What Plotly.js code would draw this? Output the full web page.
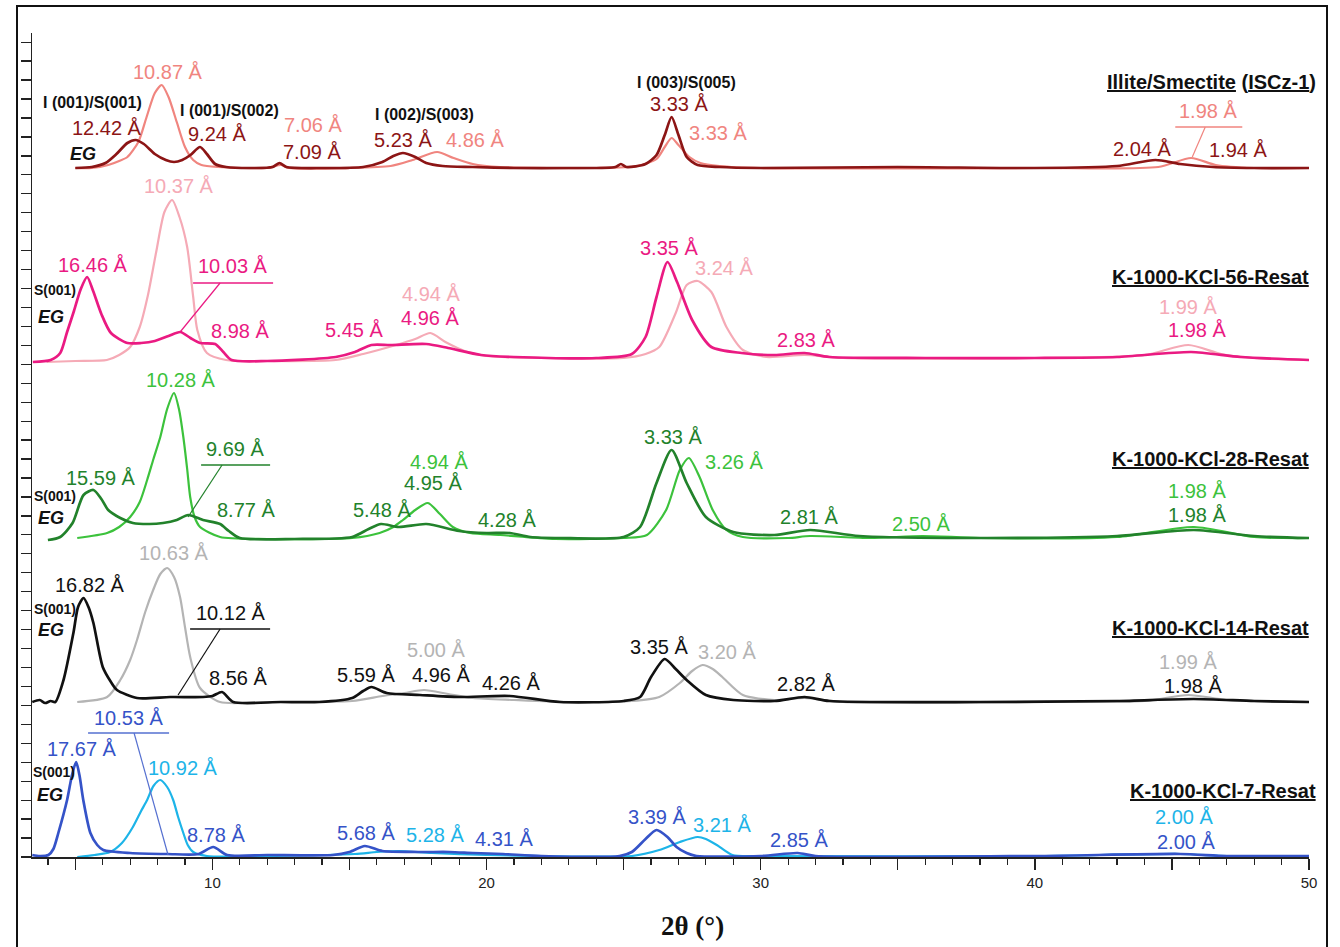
<!DOCTYPE html>
<html>
<head>
<meta charset="utf-8">
<script src="https://cdn.plot.ly/plotly-3.0.1.min.js"></script>
<style>html,body{margin:0;padding:0;background:#fff;}#chart{width:1340px;height:947px;}</style>
</head>
<body>
<div id="chart"></div>
<script>
// ---------------- DATA (2θ in degrees, intensity in stacked a.u.) ----------------
// Illite/Smectite (ISCz-1)
const iscEG_x = [5.0,5.6,6.1,6.5,6.9,7.2,7.5,7.9,8.3,8.6,8.9,9.2,9.55,9.8,10.1,10.5,11.5,12.2,12.45,12.7,14,15.5,16.2,16.6,16.95,17.4,17.8,18.4,19.5,21,23,24.7,24.9,25.1,25.8,26.2,26.5,26.75,27.0,27.3,27.7,28.5,30,35,40,43,44.4,45.3,46.5,48,50];
const iscEG_y = [689,690,694,703,714,717,713,703,697,695,697,702,710,703,693,690,689,690,694,690,689,690,695,701,704,700,694,691,690,689,689,690,693,690,693,702,722,740,722,700,692,690,689,690,689,691,697,693,690,689,689];
const iscAD_x = [5.0,5.6,6.2,6.6,6.9,7.3,7.6,7.9,8.15,8.4,8.7,9.0,9.3,9.6,10.2,12,12.5,12.8,15,16.5,17.3,18.2,18.8,19.5,20.5,24,25.5,26.2,26.5,26.75,27.0,27.4,27.8,28.5,30,40,44.5,45.7,46.6,48,50];
const iscAD_y = [689,689,692,696,700,715,740,764,772,760,735,710,697,692,690,689,692,689,689,691,697,705,699,693,690,689,691,698,710,719,712,700,694,691,689,689,690,699,692,689,689];
// K-1000-KCl-56-Resat
const k56EG_x = [3.45,4.1,4.45,4.7,4.95,5.2,5.43,5.65,5.95,6.3,6.9,7.4,7.9,8.4,8.83,9.2,9.55,10.1,10.4,10.7,12,14.5,15.2,15.8,16.5,17.8,18.6,19.8,21,24,25.3,25.8,26.2,26.6,26.95,27.5,28.2,29.3,30.5,31.6,32.5,36,40,43,45.7,47.5,50];
const k56EG_y = [495,497,504,525,546,568,580,566,543,524,514,514,516,521,525,519,514,513,505,497,496,500,505,512,512,513,509,502,500,499,503,520,560,595,575,537,510,504,502,504,500,499,499,500,505,500,497];
const k56AD_x = [3.95,5,6.15,6.6,7.0,7.35,7.65,7.95,8.25,8.53,8.8,9.08,9.3,9.45,9.8,10.5,12,14.5,15.5,16.7,17.4,17.95,18.5,19.2,20,22,25,25.8,26.3,26.9,27.3,27.7,28.2,28.75,29.35,30.2,31.6,33,40,44,45.6,46.8,48,50];
const k56AD_y = [495,496,497,502,510,530,562,605,645,657,640,610,560,527,504,497,496,497,503,512,518,524,515,506,501,499,499,503,510,544,572,576,565,530,507,500,502,499,499,502,512,503,499,497];
// K-1000-KCl-28-Resat
const k28EG_x = [4.0,4.45,4.9,5.3,5.66,5.95,6.2,6.64,7.1,7.7,8.2,8.7,9.12,9.66,10.28,10.6,11.0,13,15.1,15.7,16.15,16.8,17.8,19.0,20.0,20.85,21.6,22.7,25.0,25.6,26.2,26.75,27.3,28.0,29.0,30.5,31.8,33.6,38,43,45.8,48,50];
const k28EG_y = [317,320,334,362,367,358,347,339,334,333,334,337,342,337,333,326,319,318,320,328,333,330,333,326,324,324,320,319,320,330,374,407,374,340,325,322,327,321,319,321,327,321,319];
const k28AD_x = [5.07,6.16,6.6,7.0,7.35,7.62,7.85,8.1,8.35,8.6,8.78,8.94,9.08,9.19,9.35,9.55,10.28,12,15.1,16.1,16.6,16.95,17.4,17.86,18.3,18.77,19.4,20.5,22.5,25.0,25.85,26.55,27.05,27.38,27.77,28.25,28.75,29.35,31,31.8,34,35.9,38,43,45.8,48,50];
const k28AD_y = [319,324,330,340,355,377,398,420,448,464,448,420,388,360,340,330,320,318,319,324,330,337,347,354,343,330,324,322,318,319,322,347,387,399,380,347,327,320,319,321,319,321,319,320,330,320,319];
// K-1000-KCl-14-Resat
const k14EG_x = [3.43,3.7,3.9,4.1,4.27,4.57,4.93,5.1,5.3,5.48,5.66,6.0,6.3,6.52,7.25,8.46,9.66,10.0,10.35,10.76,12.5,13.9,15.1,15.5,15.8,16.36,17.57,19.0,20.85,22.67,25.0,25.6,26.0,26.5,26.9,27.3,28.0,29.0,30.5,31.6,32.5,38,43,45.8,48,50];
const k14EG_y = [155,157,154,156,155,177,224,250,259,250,234,190,175,167,159,160,160,161,165,155,155,155,159,166,170,164,162,160,161,155,156,160,180,198,188,177,162,157,156,160,156,155,156,158,156,155];
const k14AD_x = [5.07,6.16,6.64,7.0,7.25,7.55,7.84,8.1,8.35,8.6,8.82,9.0,9.19,9.55,10.28,12,15.1,16.2,17.0,17.72,18.6,19.5,21,23,25.3,26.3,27.05,27.5,27.88,28.25,28.6,29.35,30.5,31.6,33,40,44,45.6,47,50];
const k14AD_y = [155,160,177,197,217,245,267,283,289,280,260,230,200,169,155,155,156,161,164,167,163,159,157,155,156,160,174,186,192,188,180,162,157,159,155,155,156,162,157,155];
// K-1000-KCl-7-Resat
const k7EG_x = [3.43,3.7,4.02,4.2,4.38,4.7,4.88,5.03,5.15,5.29,5.55,5.8,6.02,7,8.35,9.5,10.03,10.54,12,14.4,15.0,15.56,16.2,17.5,18.65,19.5,20.6,22,24.85,25.3,25.8,26.2,26.6,26.93,27.3,27.66,30,31.35,32,40,45.3,47,50];
const k7EG_y = [2,1,2,8,24,57,82,95,82,57,24,12,7,4,3,3,10,2,2,2,5,11,6,5,5,4,3,1,1,5,18,27,20,10,4,1,1,4,1,1,3,1,1];
const k7AD_x = [5.07,5.7,6.27,6.7,7.1,7.4,7.62,7.85,8.1,8.35,8.57,8.75,8.94,9.1,9.3,9.8,12,15.2,16.0,16.8,18,20,22,25.3,26.3,27.05,27.7,28.0,28.4,28.97,30,40,45.3,47,50];
const k7AD_y = [0,2,5,14,30,46,57,71,77,70,57,40,24,12,5,1,1,3,5,6,4,2,1,1,7,15,20,18,12,2,1,1,3,1,1];

// tick labels of the 2θ axis
const xTickVals = [5,10,15,20,25,30,35,40,45,50];
const xTickText = ['','10','','20','','30','','40','','50'];

// ---------------- STYLE ----------------
const C = {
  DR:'#8C1515', LC:'#F0857F',
  PK:'#EA1A82', LP:'#F5AAB6',
  DG:'#22822B', LG:'#3CC23C',
  K:'#111111',  GR:'#B4B4B4',
  BL:'#3553C8', SK:'#1DB4E8'
};
const seriesDefs = [
  [iscAD_x, iscAD_y, C.LC, 2.2], [iscEG_x, iscEG_y, C.DR, 2.7],
  [k56AD_x, k56AD_y, C.LP, 2.2], [k56EG_x, k56EG_y, C.PK, 2.7],
  [k28AD_x, k28AD_y, C.LG, 2.2], [k28EG_x, k28EG_y, C.DG, 2.7],
  [k14AD_x, k14AD_y, C.GR, 2.2], [k14EG_x, k14EG_y, C.K, 2.7],
  [k7AD_x,  k7AD_y,  C.SK, 2.2], [k7EG_x,  k7EG_y,  C.BL, 2.7]
];
const traces = seriesDefs.map(s => ({
  type:'scatter', mode:'lines', x:s[0], y:s[1],
  line:{color:s[2], width:s[3], shape:'spline', smoothing:0.7},
  hoverinfo:'skip', showlegend:false
}));

// pixel → paper / axis helpers for label placement
const L = 32, W = 1277, YB = 857, H = 824, X10 = 212.3, PXD = 27.41;
const px2p = px => (px - L) / W;
const py2p = py => (YB - py) / H;
const dx = px => 10 + (px - X10) / PXD;
const dy = py => YB - py;

const FONT = 'Liberation Sans, Arial, sans-serif';
const labels = [
 ['10.87 Å',168,72,C.LC,'d'],['I (001)/S(001)',92,103,C.K,'h'],['12.42 Å',107,128,C.DR,'d'],['EG',83,154,C.K,'eg'],
 ['I (001)/S(002)',229,110,C.K,'h'],['9.24 Å',217,134,C.DR,'d'],['7.06 Å',313,125,C.LC,'d'],['7.09 Å',312,152,C.DR,'d'],
 ['I (002)/S(003)',424,114,C.K,'h'],['5.23 Å',403,140,C.DR,'d'],['4.86 Å',475,140,C.LC,'d'],['I (003)/S(005)',686,82,C.K,'h'],
 ['3.33 Å',679,104,C.DR,'d'],['3.33 Å',718,133,C.LC,'d'],['<u>Illite/Smectite</u> (<u>ISCz-1</u>)',1317,82,C.K,'n'],
 ['1.98 Å',1208,111,C.LC,'d'],['2.04 Å',1142,149,C.DR,'d'],['1.94 Å',1238,150,C.DR,'d'],

 ['10.37 Å',179,186,C.LP,'d'],['16.46 Å',93,265,C.PK,'d'],['S(001)',33,290,C.K,'s'],['EG',51,317,C.K,'eg'],
 ['10.03 Å',233,266,C.PK,'d'],['8.98 Å',240,331,C.PK,'d'],['5.45 Å',354,330,C.PK,'d'],['4.94 Å',431,294,C.LP,'d'],
 ['4.96 Å',430,318,C.PK,'d'],['3.35 Å',669,248,C.PK,'d'],['3.24 Å',724,268,C.LP,'d'],['2.83 Å',806,340,C.PK,'d'],
 ['<u>K-1000-KCl-56-Resat</u>',1310,277,C.K,'n'],['1.99 Å',1188,307,C.LP,'d'],['1.98 Å',1197,330,C.PK,'d'],

 ['10.28 Å',181,380,C.LG,'d'],['15.59 Å',101,478,C.DG,'d'],['S(001)',33,496,C.K,'s'],['EG',51,518,C.K,'eg'],
 ['9.69 Å',235,449,C.DG,'d'],['8.77 Å',246,510,C.DG,'d'],['5.48 Å',382,510,C.DG,'d'],['4.94 Å',439,462,C.LG,'d'],
 ['4.95 Å',433,483,C.DG,'d'],['4.28 Å',507,520,C.DG,'d'],['3.33 Å',673,437,C.DG,'d'],['3.26 Å',734,462,C.LG,'d'],
 ['2.81 Å',809,517,C.DG,'d'],['2.50 Å',921,524,C.LG,'d'],['<u>K-1000-KCl-28-Resat</u>',1310,459,C.K,'n'],
 ['1.98 Å',1197,491,C.LG,'d'],['1.98 Å',1197,515,C.DG,'d'],

 ['10.63 Å',174,553,C.GR,'d'],['16.82 Å',90,585,C.K,'d'],['S(001)',33,609,C.K,'s'],['EG',51,630,C.K,'eg'],
 ['10.12 Å',231,613,C.K,'d'],['8.56 Å',238,678,C.K,'d'],['5.00 Å',436,650,C.GR,'d'],['5.59 Å',366,675,C.K,'d'],
 ['4.96 Å',441,675,C.K,'d'],['4.26 Å',511,683,C.K,'d'],['3.35 Å',659,647,C.K,'d'],['3.20 Å',727,652,C.GR,'d'],
 ['2.82 Å',806,684,C.K,'d'],['<u>K-1000-KCl-14-Resat</u>',1310,628,C.K,'n'],['1.99 Å',1188,662,C.GR,'d'],['1.98 Å',1193,686,C.K,'d'],

 ['10.53 Å',129,718,C.BL,'d'],['17.67 Å',82,749,C.BL,'d'],['S(001)',32,772,C.K,'s'],['EG',50,795,C.K,'eg'],
 ['10.92 Å',183,768,C.SK,'d'],['8.78 Å',216,835,C.BL,'d'],['5.68 Å',366,833,C.BL,'d'],['5.28 Å',435,835,C.SK,'d'],
 ['4.31 Å',504,839,C.BL,'d'],['3.39 Å',657,817,C.BL,'d'],['3.21 Å',722,825,C.SK,'d'],['2.85 Å',799,840,C.BL,'d'],
 ['<u>K-1000-KCl-7-Resat</u>',1317,791,C.K,'n'],['2.00 Å',1184,817,C.SK,'d'],['2.00 Å',1186,842,C.BL,'d'],
 ['2θ (°)',692,926,C.K,'t']
];
const kinds = {
  d:{size:20, pre:'', post:'', anchor:'center', fam:FONT},
  h:{size:16, pre:'<b>', post:'</b>', anchor:'center', fam:FONT},
  s:{size:14, pre:'<b>', post:'</b>', anchor:'left', fam:FONT},
  eg:{size:18, pre:'<b><i>', post:'</i></b>', anchor:'center', fam:FONT},
  n:{size:20, pre:'<b>', post:'</b>', anchor:'right', fam:FONT},
  t:{size:27, pre:'<b>', post:'</b>', anchor:'center', fam:'Liberation Serif, Times New Roman, serif'}
};
const annotations = labels.map(l => {
  const k = kinds[l[4]];
  return {x:px2p(l[1]), y:py2p(l[2]), xref:'paper', yref:'paper', text:k.pre + l[0] + k.post,
    showarrow:false, xanchor:k.anchor, yanchor:'middle', borderpad:0,
    font:{family:k.fam, size:k.size, color:l[3]}};
});

// callout lines (underline + leader) for the shoulder peaks
const callouts = [
  [1175,1242,127,1205,1192,157,C.LC],
  [193,273,283,220,180,332,C.PK],
  [201,270,465,222,188,517,C.DG],
  [190,270,629,220,178,695,C.K],
  [88,169,733,134,168,855,'#5570D0']
];
const shapes = [];
callouts.forEach(c => {
  shapes.push({type:'line', xref:'x', yref:'y', x0:dx(c[0]), x1:dx(c[1]), y0:dy(c[2]), y1:dy(c[2]), line:{color:c[6], width:1.6}});
  shapes.push({type:'line', xref:'x', yref:'y', x0:dx(c[3]), x1:dx(c[4]), y0:dy(c[2]), y1:dy(c[5]), line:{color:c[6], width:1.2}});
});
// outer frame of the figure
shapes.push({type:'rect', xref:'paper', yref:'paper', x0:px2p(17), x1:px2p(1327), y0:-0.2, y1:py2p(6),
  line:{color:'#111', width:2}, fillcolor:'rgba(0,0,0,0)'});

const layout = {
  width:1340, height:947,
  margin:{l:L, r:1340-L-W, t:YB-H, b:947-YB},
  paper_bgcolor:'#fff', plot_bgcolor:'#fff',
  font:{family:FONT, color:'#111'},
  xaxis:{range:[3.42,50], showgrid:false, zeroline:false, showline:true, linecolor:'#222', linewidth:1.5,
    ticks:'outside', ticklen:11, tickwidth:1.4, tickcolor:'#222',
    tickmode:'array', tickvals:xTickVals, ticktext:xTickText,
    tickfont:{family:FONT, size:15, color:'#222'},
    minor:{dtick:1, tick0:0, ticks:'outside', ticklen:6, tickwidth:1.2, tickcolor:'#222'}},
  yaxis:{range:[0,824], showgrid:false, zeroline:false, showline:true, linecolor:'#222', linewidth:1.5,
    ticks:'outside', ticklen:10, tickwidth:1.3, tickcolor:'#222', dtick:18.95, tick0:0, showticklabels:false},
  annotations:annotations,
  shapes:shapes,
  showlegend:false
};
Plotly.newPlot('chart', traces, layout, {staticPlot:true, displayModeBar:false});
</script>
</body>
</html>
